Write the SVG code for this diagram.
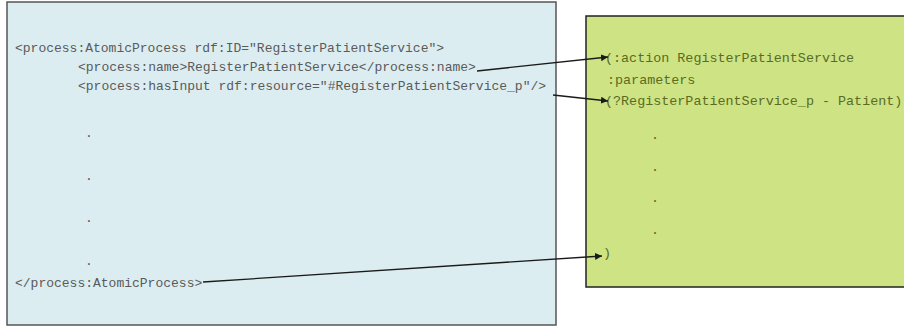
<svg xmlns="http://www.w3.org/2000/svg" width="904" height="326" viewBox="0 0 904 326">
<style>
.code{font-family:"Liberation Mono","Courier New",monospace;font-size:13px;fill:#5a5a5a}
.pddl{font-family:"Liberation Mono","Courier New",monospace;font-size:13.4px;fill:#5b6b1f}
.conn{stroke:#1a1a1a;stroke-width:1.3;fill:none;marker-end:url(#ah)}
</style>
<defs>
<marker id="ah" viewBox="0 0 10 10" refX="10" refY="5" markerWidth="7" markerHeight="7" markerUnits="userSpaceOnUse" orient="auto">
<path d="M0,0 L10,5 L0,10 z" fill="#1a1a1a"/>
</marker>
</defs>
<rect width="904" height="326" fill="#ffffff"/>
<g id="owls">
<rect x="7" y="2" width="549" height="323" fill="#dcedf1" stroke="#555" stroke-width="1.5"/>
<text class="code" x="15" y="52">&lt;process:AtomicProcess rdf:ID="RegisterPatientService"&gt;</text>
<text class="code" x="78" y="71">&lt;process:name&gt;RegisterPatientService&lt;/process:name&gt;</text>
<text class="code" x="78" y="90">&lt;process:hasInput rdf:resource="#RegisterPatientService_p"/&gt;</text>
<text class="code" x="85" y="137">.</text>
<text class="code" x="85" y="180">.</text>
<text class="code" x="85" y="222">.</text>
<text class="code" x="85" y="265">.</text>
<text class="code" x="15" y="287">&lt;/process:AtomicProcess&gt;</text>
</g>
<g id="pddl">
<rect x="586" y="16" width="330" height="271" fill="#cde384" stroke="#222" stroke-width="1.5"/>
<text class="pddl" x="605" y="62">(:action RegisterPatientService</text>
<text class="pddl" x="607" y="84">:parameters</text>
<text class="pddl" x="605" y="105">(?RegisterPatientService_p - Patient)</text>
<text class="pddl" x="651" y="139">.</text>
<text class="pddl" x="651" y="171">.</text>
<text class="pddl" x="651" y="202">.</text>
<text class="pddl" x="651" y="234">.</text>
<text class="pddl" x="603" y="257">)</text>
</g>
<g id="connectors">
<line class="conn" x1="477" y1="71" x2="608" y2="57"/>
<line class="conn" x1="553" y1="95" x2="608" y2="101"/>
<line class="conn" x1="203" y1="282" x2="602" y2="256"/>
</g>
</svg>
